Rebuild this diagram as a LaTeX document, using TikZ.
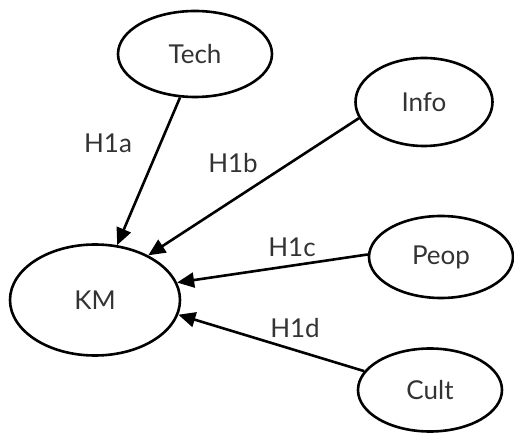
\documentclass[tikz,border=0pt]{standalone}
\usepackage{fontspec}
\setmainfont{Lato}
\usetikzlibrary{shapes.geometric,arrows.meta}
\begin{document}
\begin{tikzpicture}[x=1pt,y=-1pt,
  ell/.style={ellipse,draw=black,line width=2.6pt,inner sep=0pt,text=black!80,font=\fontsize{26}{30}\selectfont},
  arr/.style={line width=2.6pt,-{Triangle[length=17pt,width=15pt]}},
  lab/.style={text=black!80,font=\fontsize{26}{30}\selectfont,inner sep=0pt}]
\useasboundingbox (0,0) rectangle (514,435);
\node[ell,minimum width=154pt,minimum height=86pt] (tech) at (195,54) {Tech};
\node[ell,minimum width=137pt,minimum height=88pt] (info) at (424,102) {Info};
\node[ell,minimum width=170pt,minimum height=111pt] (km) at (95,300) {KM};
\node[ell,minimum width=144pt,minimum height=82pt] (peop) at (441,257) {Peop};
\node[ell,minimum width=144pt,minimum height=83pt] (cult) at (430,390) {Cult};
\draw[arr] (tech.251) -- (km.68);
\draw[arr] (info.194) -- (km.40);
\draw[arr] (peop.178) -- (km.12);
\draw[arr] (cult.164) -- (km.-10);
\node[lab] (h1a) at (108,143) {H1a};
\node[lab] (h1b) at (233,163) {H1b};
\node[lab] (h1c) at (292,247) {H1c};
\node[lab] (h1d) at (295,328) {H1d};
\end{tikzpicture}
\end{document}
